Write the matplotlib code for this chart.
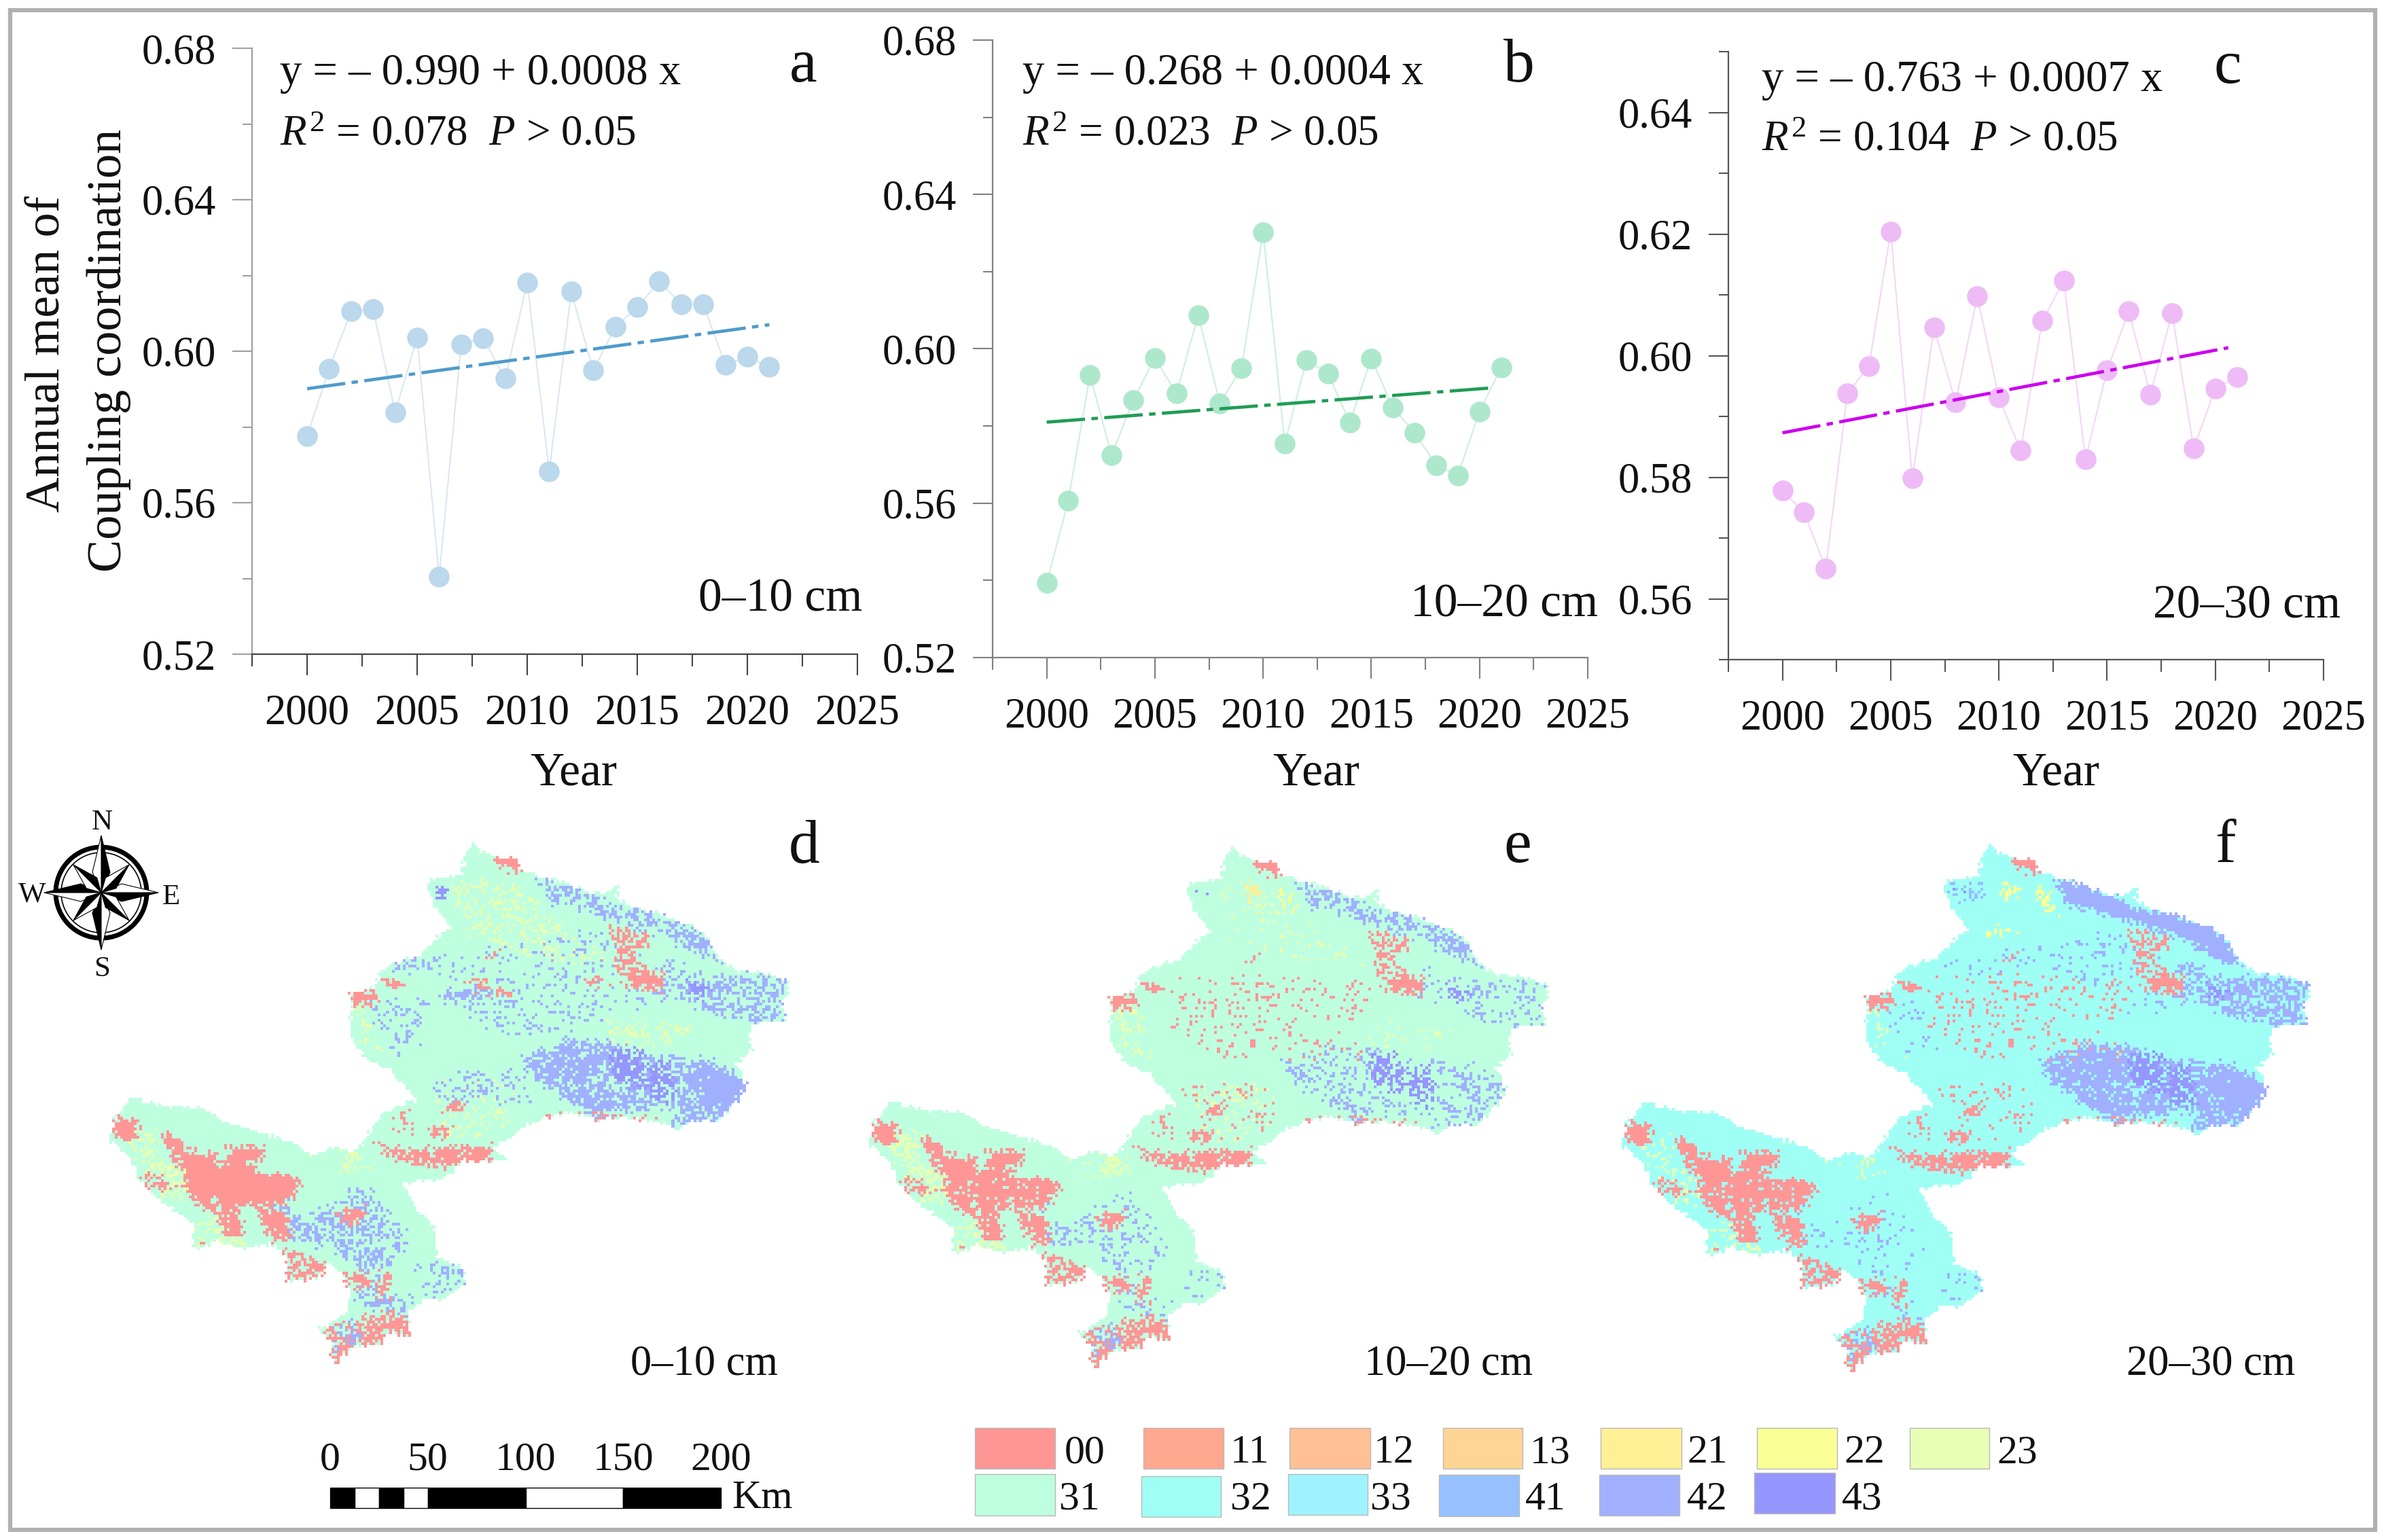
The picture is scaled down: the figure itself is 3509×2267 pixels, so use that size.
import numpy as np
import matplotlib
matplotlib.use('Agg')
import matplotlib.pyplot as plt
from matplotlib.path import Path
from matplotlib.patches import Polygon, Circle, Rectangle
from matplotlib.colors import ListedColormap
from matplotlib.ticker import MultipleLocator, FixedLocator, FormatStrFormatter

plt.rcParams['font.family'] = ['Liberation Serif', 'DejaVu Serif']
plt.rcParams['mathtext.fontset'] = 'custom'
plt.rcParams['mathtext.rm'] = 'Liberation Serif'
plt.rcParams['mathtext.it'] = 'Liberation Serif:italic'

W, H = 3509, 2267

# ---------- data ----------
years = list(range(2000, 2022))
coupling_a = [0.5776, 0.5953, 0.6105, 0.6112, 0.5839, 0.6036, 0.5404, 0.6018, 0.6034, 0.5928, 0.6181,
              0.5682, 0.6157, 0.5949, 0.6064, 0.6116, 0.6184, 0.6124, 0.6124, 0.5964, 0.5985, 0.5958]
coupling_b = [0.5393, 0.5607, 0.5932, 0.5724, 0.5867, 0.5976, 0.5884, 0.6088, 0.5859, 0.5950, 0.6302,
              0.5754, 0.5971, 0.5936, 0.5809, 0.5975, 0.5847, 0.5783, 0.5698, 0.5672, 0.5838, 0.5952]
coupling_c = [0.5778, 0.5742, 0.5650, 0.5938, 0.5983, 0.6204, 0.5798, 0.6046, 0.5923, 0.6098, 0.5931,
              0.5844, 0.6057, 0.6123, 0.5830, 0.5976, 0.6073, 0.5936, 0.6070, 0.5847, 0.5946, 0.5965]
trend_x_a = [2000, 2021]
trend_y_a = [0.5901, 0.6070]
trend_x_b = [2000, 2020.6]
trend_y_b = [0.5810, 0.5899]
trend_x_c = [2000, 2020.6]
trend_y_c = [0.5873, 0.6013]

legend_codes = ['00', '11', '12', '13', '21', '22', '23', '31', '32', '33', '41', '42', '43']
legend_colors = ['#FF9696', '#FFA890', '#FFC096', '#FFD596', '#FFF096', '#FAFF96', '#E6FFB4',
                 '#BEFFE0', '#A0FFF5', '#9EF3FF', '#96C0FF', '#A0B0FF', '#9696FF']

# map outline and class regions
outline = [(810,90),(835,110),(855,115),(900,122),(905,145),(950,160),(985,170),(1040,190),(1075,195),(1105,178),
           (1100,205),(1130,225),(1190,240),(1250,265),(1285,290),(1305,335),(1340,360),(1400,365),(1445,385),
           (1445,415),(1430,430),(1445,470),(1380,470),(1365,490),(1370,530),(1340,560),(1360,600),(1345,635),
           (1310,680),(1250,685),(1220,705),(1210,690),(1180,685),(1110,675),(1060,678),(1010,665),(960,675),
           (930,685),(880,720),(850,740),(875,765),(790,765),(770,795),(740,810),(670,815),(700,870),(735,910),
           (740,975),(790,995),(795,1035),(750,1065),(720,1060),(680,1090),(685,1145),(640,1135),(630,1160),
           (570,1165),(540,1198),(525,1190),(530,1155),(500,1130),(550,1100),(565,1060),(555,1020),(525,985),
           (500,1020),(440,1025),(435,970),(410,945),(345,955),(300,940),(250,955),(250,900),(180,850),(150,820),
           (125,760),(80,720),(95,670),(130,632),(190,650),(260,655),(330,690),(410,715),(450,730),(490,755),
           (530,740),(580,745),(610,700),(625,670),(670,645),(700,640),(650,575),(600,550),(570,515),(565,410),
           (615,395),(630,355),(700,330),(745,285),(770,270),(735,225),(720,190),(725,165),(790,155),(795,110)]

base_class = ['31', '31', '32']
# (class, (density d, e, f), polygon)
regions = [
    ('23', (.30, .10, .04), [(770,170),(900,170),(1000,280),(1100,340),(950,340),(800,290)]),
    ('23', (.30, .10, .05), [(1090,460),(1250,480),(1200,520),(1080,510)]),
    ('23', (.50, .55, .25), [(130,740),(230,790),(230,850),(180,840),(150,790)]),
    ('23', (.35, .50, .20), [(100,690),(180,700),(190,760),(130,750)]),
    ('23', (.35, .45, .20), [(490,760),(600,745),(620,790),(530,790)]),
    ('23', (.20, .30, .15), [(570,430),(640,430),(640,540),(580,520)]),
    ('23', (.30, .30, .25), [(250,900),(330,870),(360,950),(255,950)]),
    ('23', (.25, .25, .10), [(730,590),(890,600),(880,700),(760,720)]),
    ('41', (.00, .00, .25), [(730,170),(800,165),(790,210),(745,215)]),
    # purple zones
    ('42', (.12, .03, .06), [(700,340),(1100,270),(1230,400),(1100,470),(760,440)]),
    ('42', (.50, .50, .97), [(940,160),(1040,190),(1075,200),(1100,225),(1190,240),(1250,265),(1285,290),(1305,335),
                             (1280,345),(1200,290),(1130,265),(1060,240),(960,215)]),
    ('42', (.45, .18, .58), [(1215,365),(1300,370),(1400,365),(1445,385),(1445,470),(1380,470),(1300,450),(1240,435)]),
    ('42', (.30, .15, .45), [(1180,330),(1240,350),(1220,420),(1180,420)]),
    ('43', (1.0, .80, .85), [(1235,385),(1290,395),(1270,420),(1250,410)]),
    ('42', (.70, .25, .85), [(910,545),(1000,505),(1080,510),(1160,545),(1270,550),(1340,580),(1360,600),(1345,635),
                             (1310,680),(1220,695),(1205,650),(1130,660),(1060,670),(1000,640),(930,590)]),
    ('43', (.78, .65, .85), [(1090,530),(1150,525),(1155,610),(1095,600)]),
    ('43', (.70, .55, .85), [(1165,550),(1205,555),(1215,640),(1170,640)]),
    ('42', (1.0, .45, 1.0), [(1275,560),(1340,585),(1360,605),(1340,640),(1280,645)]),
    ('42', (.85, .25, .90), [(960,530),(1060,510),(1075,580),(990,590)]),
    ('42', (.60, .04, .05), [(750,400),(880,395),(880,420),(760,420)]),
    ('42', (.28, .03, .03), [(620,350),(740,320),(760,350),(690,370)]),
    ('42', (.18, .04, .08), [(760,420),(1000,430),(1080,480),(860,500)]),
    ('42', (.16, .05, .05), [(730,590),(900,560),(930,640),(750,640)]),
    ('42', (.20, .05, .08), [(600,430),(720,420),(720,520),(640,540)]),
    ('42', (.45, .22, .12), [(390,840),(440,850),(470,900),(580,820),(640,870),(680,930),(640,990),(620,1050),
                             (690,1060),(680,1090),(620,1085),(570,1060),(590,1000),(540,960),(450,930)]),
    ('42', (.30, .15, .08), [(700,985),(790,995),(795,1035),(720,1060)]),
    ('42', (.35, .30, .20), [(530,1130),(640,1090),(680,1090),(640,1130),(560,1160)]),
    ('43', (1.0, .1, .1), [(735,165),(760,200),(745,205)]),
    ('21', (.00, .85, .00), [(840,160),(865,170),(870,195),(840,200)]),
    ('22', (.00, .00, 1.0), [(838,170),(868,178),(868,198),(838,200)]),
    ('22', (.00, .50, .95), [(905,175),(930,195),(940,240),(915,225)]),
    ('22', (.00, .00, .85), [(800,268),(860,262),(860,275),(800,280)]),
    # red zones
    ('00', (.04, .07, .07), [(700,370),(900,350),(1090,400),(1060,540),(800,540),(690,480)]),
    ('00', (.05, .08, .08), [(700,590),(900,600),(880,700),(760,720)]),
    ('00', (1.0, 1.0, 1.0), [(850,110),(905,118),(910,150),(865,138)]),
    ('00', (.90, .90, .90), [(560,405),(612,398),(618,428),(570,435)]),
    ('00', (.85, .85, .85), [(630,375),(670,380),(675,400),(640,395)]),
    ('00', (.65, .55, .55), [(1085,265),(1150,275),(1175,300),(1130,330),(1195,380),(1200,400),(1130,400),(1100,370),(1095,320)]),
    ('00', (.95, .90, .90), [(1130,362),(1192,370),(1198,400),(1130,403)]),
    ('00', (.60, .35, .35), [(800,370),(850,385),(890,400),(880,412),(830,405),(800,385)]),
    ('00', (.85, .80, .80), [(835,325),(860,315),(855,332)]),
    ('00', (.70, .50, .50), [(1040,375),(1080,380),(1075,392),(1040,388)]),
    ('00', (.95, .95, .95), [(610,725),(680,745),(760,740),(850,735),(840,765),(770,778),(700,778),(640,752)]),
    ('00', (1.0, 1.0, 1.0), [(726,692),(768,702),(763,718),(726,713)]),
    ('00', (.65, .65, .65), [(750,640),(790,640),(790,665),(755,660)]),
    ('00', (.35, .35, .35), [(655,660),(690,665),(690,705),(650,705)]),
    ('00', (1.0, 1.0, 1.0), [(85,700),(100,670),(140,685),(135,720),(110,725)]),
    ('00', (.95, .90, .90), [(190,705),(215,710),(240,745),(290,750),(300,800),(240,800),(205,750)]),
    ('00', (.85, .80, .80), [(145,795),(190,800),(218,828),(165,830)]),
    ('00', (1.0, 1.0, 1.0), [(320,738),(388,738),(388,770),(320,770)]),
    ('00', (.97, .95, .95), [(230,785),(340,768),(385,795),(440,795),(465,815),(445,855),(385,862),(340,862),(235,830)]),
    ('00', (.90, .90, .90), [(298,850),(342,850),(352,928),(312,928)]),
    ('00', (.90, .85, .85), [(372,858),(432,878),(452,938),(408,938)]),
    ('00', (.80, .80, .80), [(238,835),(288,835),(302,872),(252,862)]),
    ('00', (.75, .75, .75), [(250,945),(345,950),(345,958),(250,958)]),
    ('00', (.75, .75, .75), [(437,960),(522,985),(502,1022),(440,1024)]),
    ('00', (.95, .95, .95), [(552,1002),(602,1008),(608,1036),(558,1032)]),
    ('00', (.95, .95, .95), [(538,878),(592,868),(582,902),(548,902)]),
    ('00', (.50, .50, .50), [(620,1000),(640,1000),(650,1060),(620,1060)]),
    ('00', (.75, .75, .75), [(500,1130),(560,1115),(640,1085),(680,1105),(685,1145),(640,1135),(630,1160),(570,1165),
                             (540,1198),(525,1190),(530,1155)]),
    ('00', (.80, .80, .80), [(950,668),(1060,670),(1180,678),(1180,692),(1060,686),(950,684)]),
    ('42', (.30, .30, .25), [(530,1120),(580,1105),(590,1150),(540,1190)]),
]

# halftone tables that render each region's coverage cell by cell
half_a = ['37190562841', '82465019376', '50938274610', '14627395082', '96081743529', '25374860917', '70516928348']
half_b = ['4172950836214', '9036281745903', '2758149360672', '6490317528146', '1825706493082', '7361948205537',
          '0594273816469', '3918650274721', '8247016359385', '5603492781150', '1729385064796']
A = np.array([[int(c) for c in r] for r in half_a]) / 10.0
B = np.array([[int(c) for c in r] for r in half_b]) / 10.0

# ---------- figure ----------
fig = plt.figure(figsize=(W / 100, H / 100), dpi=100, facecolor='white')


def px_axes(left, top, right, bottom, **kw):
    return fig.add_axes([left / W, 1 - bottom / H, (right - left) / W, (bottom - top) / H], **kw)


ov = fig.add_axes([0, 0, 1, 1], zorder=5)
ov.set_xlim(0, W)
ov.set_ylim(H, 0)
ov.axis('off')
ov.patch.set_alpha(0)


def T(x, y, s, size, ha='left', rot=0, **kw):
    ov.text(x, y, s, fontsize=size, ha=ha, va='baseline', rotation=rot, rotation_mode='anchor', color='#111111', **kw)


panels = [
    dict(box=(371, 71, 1262, 963), y=coupling_a, tx=trend_x_a, ty=trend_y_a, ylim=(0.52, 0.68), maj=0.04, mino=0.02,
         mc='#BBD8EC', lc='#D8E8F3', tc='#4F9BCB', left='#A0A0A0', bot='#444444',
         fmt=('y = – 0.990 + 0.0008 x', r'$\mathit{R}^{2}$ = 0.078  $\mathit{P}$ > 0.05'), tpos=(412, 124, 214),
         let=('a', 1182, 120), dep=('0–10 cm', 1269, 899), yr=(844, 1155)),
    dict(box=(1461, 59, 2337, 968), y=coupling_b, tx=trend_x_b, ty=trend_y_b, ylim=(0.52, 0.68), maj=0.04, mino=0.02,
         mc='#AEE8CC', lc='#CDF0DD', tc='#1F9D55', left='#808080', bot='#808080',
         fmt=('y = – 0.268 + 0.0004 x', r'$\mathit{R}^{2}$ = 0.023  $\mathit{P}$ > 0.05'), tpos=(1505, 124, 214),
         let=('b', 2236, 120), dep=('10–20 cm', 2352, 907), yr=(1937, 1155)),
    dict(box=(2544, 76, 3420, 971), y=coupling_c, tx=trend_x_c, ty=trend_y_c, ylim=(0.55, 0.65), maj=0.02, mino=0.01,
         mc='#EEBBF7', lc='#F5D5FA', tc='#CC00EE', left='#555555', bot='#555555',
         fmt=('y = – 0.763 + 0.0007 x', r'$\mathit{R}^{2}$ = 0.104  $\mathit{P}$ > 0.05'), tpos=(2593, 134, 222),
         let=('c', 3279, 122), dep=('20–30 cm', 3445, 910), yr=(3026, 1155)),
]

for p in panels:
    ax = px_axes(*p['box'])
    ax.plot(years, p['y'], color=p['lc'], lw=1.5, zorder=2)
    ax.plot(years, p['y'], ls='none', marker='o', ms=22, mfc=p['mc'], mec='none', zorder=3)
    ax.plot(p['tx'], p['ty'], color=p['tc'], lw=3.4, ls=(0, (12, 2, 2, 2)), zorder=4)
    ax.set_xlim(1997.5, 2025)
    ax.set_ylim(*p['ylim'])
    ax.xaxis.set_major_locator(FixedLocator([2000, 2005, 2010, 2015, 2020, 2025]))
    ax.xaxis.set_minor_locator(FixedLocator([1997.5, 2002.5, 2007.5, 2012.5, 2017.5, 2022.5]))
    ax.yaxis.set_major_locator(MultipleLocator(p['maj']))
    ax.yaxis.set_minor_locator(MultipleLocator(p['mino']))
    ax.yaxis.set_major_formatter(FormatStrFormatter('%.2f'))
    ax.spines['top'].set_visible(False)
    ax.spines['right'].set_visible(False)
    ax.spines['left'].set_color(p['left'])
    ax.spines['bottom'].set_color(p['bot'])
    ax.spines['left'].set_linewidth(1.6)
    ax.spines['bottom'].set_linewidth(1.6)
    ax.tick_params(axis='x', which='major', length=22, width=1.5, color=p['bot'], labelsize=45, pad=20, labelcolor='#111111')
    ax.tick_params(axis='x', which='minor', length=13, width=1.5, color=p['bot'])
    ax.tick_params(axis='y', which='major', length=21, width=1.5, color=p['left'], labelsize=45, pad=17, labelcolor='#111111')
    ax.tick_params(axis='y', which='minor', length=10, width=1.5, color=p['left'])
    ax.patch.set_alpha(0)
    x0, y1, y2 = p['tpos']
    T(x0, y1, p['fmt'][0], 46.5)
    T(x0, y2, p['fmt'][1], 45.5)
    T(p['let'][1], p['let'][2], p['let'][0], 66, ha='center')
    T(p['dep'][1], p['dep'][2], p['dep'][0], 50, ha='right')
    T(p['yr'][0], p['yr'][1], 'Year', 50, ha='center')

T(87, 521, 'Annual mean of', 52, ha='center', rot=90)
T(178, 516, 'Coupling coordination', 52, ha='center', rot=90)

# ---------- maps ----------
nx, ny = 285, 270
cx = (np.arange(nx) + .5) * 1568 / nx
cy = (np.arange(ny) + .5) * 1568 / ny
XX, YY = np.meshgrid(cx, cy)
I, J = np.meshgrid(np.arange(ny), np.arange(nx), indexing='ij')
h1 = (A[I % 7, J % 11] + B[I % 11, J % 13]) % 1.0
h2 = (A[(I + 3) % 7, (J + 5) % 11] + 2 * B[(I + 7) % 11, (J + 2) % 13]) % 1.0
h3 = (2 * A[(I + 1) % 7, (J + 8) % 11] + B[(I + 4) % 11, (J + 9) % 13]) % 1.0
halftone = h1 + .05
pts_edge = np.column_stack([(XX + (h2 - .5) * 9).ravel(), (YY + (h3 - .5) * 9).ravel()])
pts_rough = np.column_stack([(XX + (h2 - .5) * 20).ravel(), (YY + (h3 - .5) * 20).ravel()])
inside = Path(outline + [outline[0]]).contains_points(pts_edge).reshape(ny, nx)
region_masks = [Path(list(r[2]) + [r[2][0]]).contains_points(pts_rough).reshape(ny, nx) for r in regions]
cmap = ListedColormap(legend_colors)
map_boxes = [(100, 1180, 1250, 2260), (1218, 1186, 2368, 2266), (2326, 1181, 3491, 2275)]

for k, box in enumerate(map_boxes):
    grid = np.full((ny, nx), legend_codes.index(base_class[k]), dtype=float)
    for r, mask in zip(regions, region_masks):
        grid[mask & (halftone < r[1][k])] = legend_codes.index(r[0])
    grid[~inside] = np.nan
    ax = px_axes(*box)
    ax.imshow(grid, cmap=cmap, vmin=-.5, vmax=12.5, extent=(0, 1568, 1568, 0), aspect='auto', interpolation='nearest')
    ax.axis('off')
    ax.patch.set_alpha(0)

for s, x, y in [('d', 1184, 1270), ('e', 2234, 1269), ('f', 3275, 1269)]:
    T(x, y, s, 66, ha='center')
T(1145, 2024, '0–10 cm', 45, ha='right')
T(2256, 2023, '10–20 cm', 45, ha='right')
T(3378, 2023, '20–30 cm', 45, ha='right')

# ---------- legend ----------
leg_boxes = {'00': (1435, 1553, 2102, 2162), '11': (1683, 1801, 2102, 2162), '12': (1898, 2017, 2102, 2162),
             '13': (2124, 2241, 2102, 2162), '21': (2356, 2475, 2102, 2162), '22': (2586, 2704, 2102, 2162),
             '23': (2811, 2928, 2102, 2162), '31': (1435, 1553, 2170, 2231), '32': (1680, 1797, 2173, 2233),
             '33': (1896, 2013, 2170, 2230), '41': (2118, 2236, 2171, 2232), '42': (2354, 2472, 2171, 2231),
             '43': (2582, 2701, 2168, 2228)}
leg_text = {'00': 1567, '11': 1811, '12': 2022, '13': 2252, '21': 2483, '22': 2714, '23': 2939,
            '31': 1559, '32': 1811, '33': 2017, '41': 2245, '42': 2483, '43': 2711}
for code, col in zip(legend_codes, legend_colors):
    x0, x1, y0, y1 = leg_boxes[code]
    ov.add_patch(Rectangle((x0, y0), x1 - x0, y1 - y0, fc=col, ec='#B8B8B8', lw=1.0))
    T(leg_text[code], 2153 if y0 < 2150 else 2222, code, 43)

# ---------- scale bar ----------
scale_km = [0, 12.5, 25, 37.5, 50, 100, 150, 200]
scale_labels = [0, 50, 100, 150, 200]
sx = lambda km: 486 + km * (1061 - 486) / 200
for i in range(len(scale_km) - 1):
    ov.add_patch(Rectangle((sx(scale_km[i]), 2190), sx(scale_km[i + 1]) - sx(scale_km[i]), 30,
                           fc='black' if i % 2 == 0 else 'white', ec='black', lw=1.0))
for km in scale_labels:
    T(sx(km), 2163, str(km), 43, ha='center')
T(1077, 2220, 'Km', 43)

# ---------- compass ----------
cxc, cyc = 149, 1314
ov.add_patch(Circle((cxc, cyc), 67, fc='none', ec='black', lw=5))
ov.add_patch(Circle((cxc, cyc), 59, fc='none', ec='black', lw=1.2))
for ang, L, hw, r0 in [(a, 84, 13, 30) for a in (90, 0, 270, 180)] + [(a, 58, 11, 20) for a in (45, 315, 225, 135)]:
    t = np.deg2rad(ang)
    u = np.array([np.cos(t), -np.sin(t)])
    v = np.array([u[1], -u[0]]) * -1
    c = np.array([cxc, cyc], float)
    tip = c + L * u
    mid = c + r0 * u
    ov.add_patch(Polygon([c, tip, mid + hw * v], fc='black', ec='black', lw=.8))
    ov.add_patch(Polygon([c, tip, mid - hw * v], fc='white', ec='black', lw=.8))
for s, x, y in [('N', 150, 1221), ('S', 150, 1437), ('W', 47, 1328), ('E', 252, 1331)]:
    T(x, y, s, 31, ha='center')

# ---------- frame ----------
ov.add_patch(Rectangle((15, 15), 3481, 2237, fc='none', ec='#B0B0B0', lw=4.5))

fig.savefig('out.png', dpi=100)
